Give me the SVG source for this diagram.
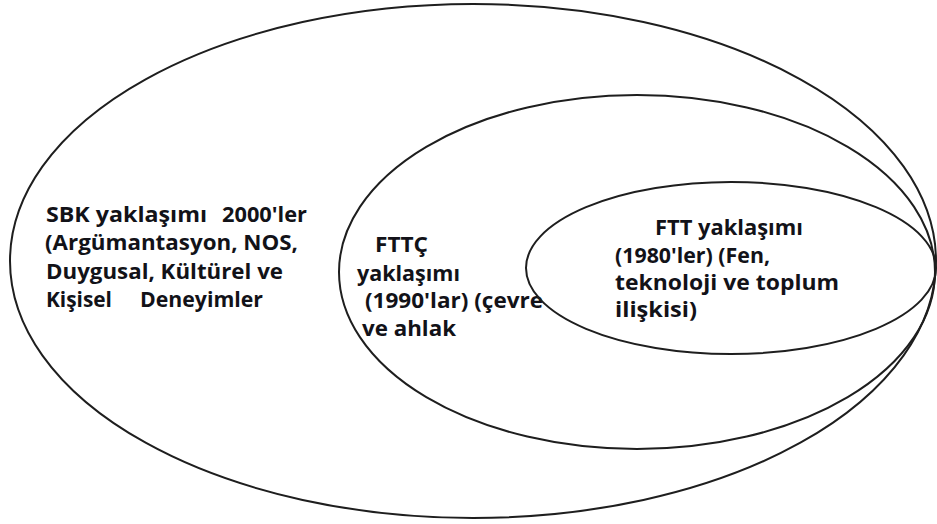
<svg xmlns="http://www.w3.org/2000/svg" width="937" height="524" viewBox="0 0 937 524">
<style>
.ring{fill:none;stroke:#1e1e1e;stroke-width:2}
.t{font-family:"Open Sans","Liberation Sans",sans-serif;font-weight:700;font-size:21px;fill:#121218}
</style>
<rect width="937" height="524" fill="#ffffff"/>
<g id="sbk">
<ellipse class="ring" cx="473" cy="261" rx="463" ry="257"/>
<text class="t" x="46" y="222" textLength="161" lengthAdjust="spacingAndGlyphs">SBK yaklaşımı</text>
<text class="t" x="222" y="222" textLength="85" lengthAdjust="spacingAndGlyphs">2000'ler</text>
<text class="t" x="45" y="250" textLength="253" lengthAdjust="spacingAndGlyphs">(Argümantasyon, NOS,</text>
<text class="t" x="46" y="279" textLength="237" lengthAdjust="spacingAndGlyphs">Duygusal, Kültürel ve</text>
<text class="t" x="46" y="307" textLength="66" lengthAdjust="spacingAndGlyphs">Kişisel</text>
<text class="t" x="140" y="307" textLength="123" lengthAdjust="spacingAndGlyphs">Deneyimler</text>
</g>
<g id="fttc">
<ellipse class="ring" cx="637" cy="272" rx="298" ry="177"/>
<text class="t" x="375" y="252" textLength="53" lengthAdjust="spacingAndGlyphs">FTTÇ</text>
<text class="t" x="357" y="281" textLength="103" lengthAdjust="spacingAndGlyphs">yaklaşımı</text>
<text class="t" x="365" y="308" textLength="178" lengthAdjust="spacingAndGlyphs">(1990'lar) (çevre</text>
<text class="t" x="362" y="336" textLength="94" lengthAdjust="spacingAndGlyphs">ve ahlak</text>
</g>
<g id="ftt">
<ellipse class="ring" cx="731" cy="268" rx="205" ry="86"/>
<text class="t" x="655" y="235" textLength="148" lengthAdjust="spacingAndGlyphs">FTT yaklaşımı</text>
<text class="t" x="615" y="263" textLength="155" lengthAdjust="spacingAndGlyphs">(1980'ler) (Fen,</text>
<text class="t" x="615" y="290" textLength="224" lengthAdjust="spacingAndGlyphs">teknoloji ve toplum</text>
<text class="t" x="615" y="317" textLength="82" lengthAdjust="spacingAndGlyphs">ilişkisi)</text>
</g>
<g id="connectors"/>
</svg>
